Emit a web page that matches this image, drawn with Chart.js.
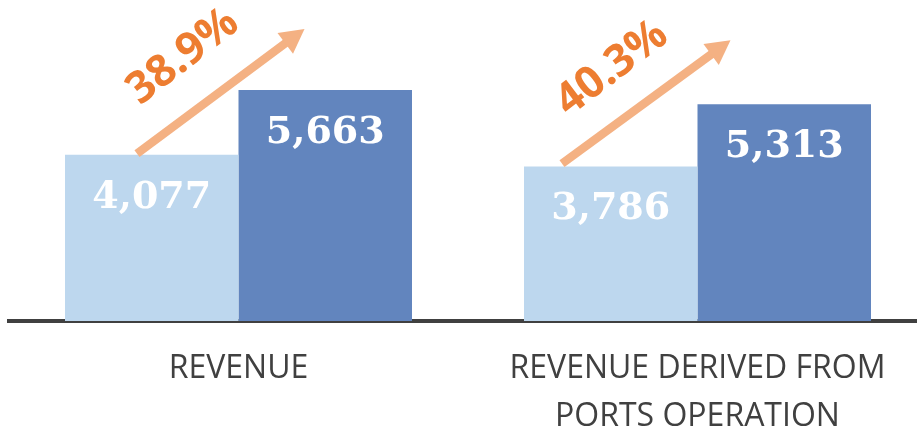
<!DOCTYPE html>
<html lang="en">
<head>
    <meta charset="UTF-8">
    <title>Revenue comparison</title>
    <script src="https://cdn.jsdelivr.net/npm/chart.js"></script>
    <style>
        html, body { margin: 0; padding: 0; background: #fff; overflow: hidden; }
        .wrap { width: 927px; height: 426px; position: relative; }
    </style>
</head>
<body>
    <div class="wrap">
        <canvas id="revChart"></canvas>
    </div>

    <script>
        // Chart data
        const categories = [['REVENUE'], ['REVENUE DERIVED FROM', 'PORTS OPERATION']];
        const priorValues = [4077, 3786];
        const currentValues = [5663, 5313];
        const growthLabels = ['38.9%', '40.3%'];

        const lightBlue = '#bdd7ee';
        const darkBlue = '#6285be';
        const arrowColor = '#f4b183';
        const pctColor = '#ed7d31';

        // hand placed arrows, offsets in px from the bars of each group
        const arrowGeom = [
            { tail: [72, -1], tip: [66, -61], text: [46, -97] },
            { tail: [38, -3], tip: [33, -64], text: [50, -95] }
        ];

        const fmt = v => v.toLocaleString('en-US');

        const overlayPlugin = {
            id: 'overlay',
            afterDatasetsDraw(chart) {
                const ctx = chart.ctx;
                const lightBars = chart.getDatasetMeta(0).data;
                const darkBars = chart.getDatasetMeta(1).data;

                // values inside bars
                ctx.save();
                ctx.fillStyle = '#fff';
                ctx.font = 'bold 38px "DejaVu Serif"';
                ctx.textAlign = 'center';
                ctx.textBaseline = 'middle';
                [0, 1].forEach(d => {
                    chart.getDatasetMeta(d).data.forEach((bar, i) => {
                        const v = chart.data.datasets[d].data[i];
                        ctx.fillText(fmt(v), bar.x, bar.y + 43);
                    });
                });
                ctx.restore();

                // growth arrows
                lightBars.forEach((lb, i) => {
                    const db = darkBars[i];
                    const g = arrowGeom[i];
                    const lLeft = lb.x - lb.width / 2;
                    const dLeft = db.x - db.width / 2;
                    const tx = lLeft + g.tail[0], ty = lb.y + g.tail[1];
                    const hx = dLeft + g.tip[0], hy = db.y + g.tip[1];
                    const ang = Math.atan2(hy - ty, hx - tx);
                    const headLen = 24, headHalf = 13;
                    const bx = hx - headLen * Math.cos(ang), by = hy - headLen * Math.sin(ang);

                    ctx.save();
                    ctx.strokeStyle = arrowColor;
                    ctx.fillStyle = arrowColor;
                    ctx.lineWidth = 8.5;
                    ctx.beginPath();
                    ctx.moveTo(tx, ty);
                    ctx.lineTo(bx + 2 * Math.cos(ang), by + 2 * Math.sin(ang));
                    ctx.stroke();
                    ctx.beginPath();
                    ctx.moveTo(hx, hy);
                    ctx.lineTo(bx - headHalf * Math.sin(ang), by + headHalf * Math.cos(ang));
                    ctx.lineTo(bx + headHalf * Math.sin(ang), by - headHalf * Math.cos(ang));
                    ctx.closePath();
                    ctx.fill();
                    ctx.restore();

                    // percent label along the arrow
                    ctx.save();
                    ctx.translate(tx + g.text[0], ty + g.text[1]);
                    ctx.rotate(ang - 0.02);
                    ctx.fillStyle = pctColor;
                    ctx.font = 'bold 44px "Open Sans"';
                    ctx.textAlign = 'center';
                    ctx.textBaseline = 'middle';
                    ctx.fillText(growthLabels[i], 0, 0);
                    ctx.restore();
                });
            }
        };

        const ctxRev = document.getElementById('revChart').getContext('2d');
        const revChart = new Chart(ctxRev, {
            type: 'bar',
            data: {
                labels: categories,
                datasets: [
                    { label: 'Prior', data: priorValues, backgroundColor: lightBlue, borderWidth: 0 },
                    { label: 'Current', data: currentValues, backgroundColor: darkBlue, borderWidth: 0 }
                ]
            },
            options: {
                responsive: true,
                maintainAspectRatio: false,
                animation: false,
                layout: { padding: { left: 9, right: 0, top: 0, bottom: 0 } },
                datasets: { bar: { barPercentage: 1, categoryPercentage: 0.756 } },
                scales: {
                    x: {
                        grid: { display: false, drawTicks: false },
                        border: { display: true, color: '#404040', width: 4 },
                        ticks: {
                            color: '#404040',
                            font: { family: 'Open Sans', size: 32, lineHeight: 1.5 },
                            padding: 24,
                            maxRotation: 0
                        },
                        afterFit(scale) { scale.height = 105; }
                    },
                    y: { display: false, min: 0, max: 7870 }
                },
                plugins: {
                    legend: { display: false },
                    tooltip: { enabled: false }
                }
            },
            plugins: [overlayPlugin]
        });
    </script>
</body>
</html>
